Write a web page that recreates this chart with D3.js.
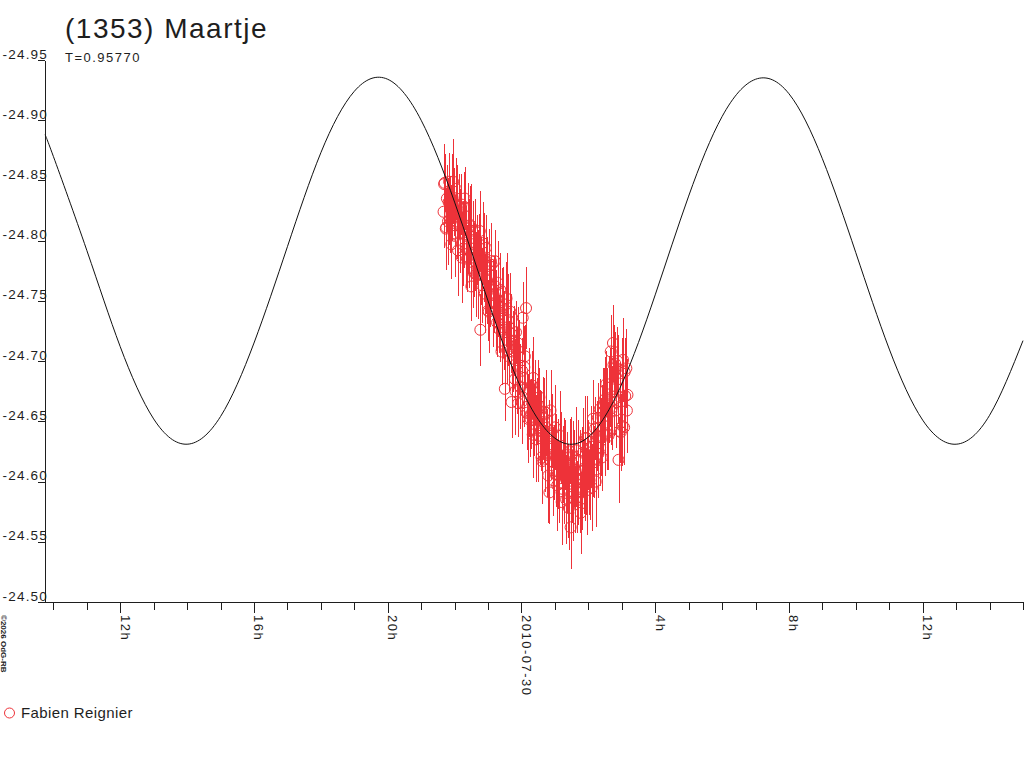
<!DOCTYPE html>
<html>
<head>
<meta charset="utf-8">
<script src="https://cdn.jsdelivr.net/npm/d3@7"></script>
<style>
  body { margin: 0; background: #fff; }
  svg { display: block; font-family: "Liberation Sans", Arial, sans-serif; }
</style>
</head>
<body>
<script>
// lightcurve of (1353) Maartje, hours counted from 2010-07-30 0h UT

var w = 1024;
var h = 768;
var red = "#ee3239";

// y axis ticks (magnitudes)
var yTicks = [-24.95, -24.90, -24.85, -24.80, -24.75, -24.70, -24.65, -24.60, -24.55, -24.50];

// x axis: major ticks and their labels, minor ticks every hour
var majorHours = [-12, -8, -4, 0, 4, 8, 12];
var majorLabels = ["12h", "16h", "20h", "2010-07-30", "4h", "8h", "12h"];
var minorHours = [-14, -13, -11, -10, -9, -7, -6, -5, -3, -2, -1, 1, 2, 3, 5, 6, 7, 9, 10, 11, 13, 14, 15];

// model curve
var modelHours = [-14.25, -14, -13, -12, -11, -10, -9, -8, -7, -6, -5, -4, -3, -2, -1,
  0, 1, 2, 3, 4, 5, 6, 7, 8, 9, 10, 11, 12, 13, 14, 15];
var modelMag = [-24.888, -24.870, -24.792, -24.712, -24.652, -24.631, -24.654, -24.715, -24.795,
  -24.873, -24.924, -24.934, -24.900, -24.832, -24.750, -24.677, -24.636, -24.637, -24.681,
  -24.755, -24.837, -24.903, -24.934, -24.922, -24.868, -24.790, -24.710, -24.651, -24.631,
  -24.655, -24.717];

// observations, Fabien Reignier
var obsHours = [
  -2.330, -2.297, -2.263, -2.230, -2.197, -2.163, -2.130, -2.097, -2.063,
  -2.030, -1.997, -1.963, -1.930, -1.897, -1.863, -1.830, -1.797, -1.763,
  -1.730, -1.697, -1.663, -1.630, -1.597, -1.563, -1.530, -1.497, -1.463,
  -1.430, -1.397, -1.363, -1.330, -1.297, -1.263, -1.230, -1.197, -1.163,
  -1.130, -1.097, -1.063, -1.030, -0.997, -0.963, -0.930, -0.897, -0.863,
  -0.830, -0.797, -0.763, -0.730, -0.697, -0.663, -0.630, -0.597, -0.563,
  -0.530, -0.497, -0.463, -0.430, -0.397, -0.363, -0.330, -0.297, -0.263,
  -0.230, -0.197, -0.163, -0.130, -0.097, -0.063, -0.030, 0.003, 0.037,
  0.070, 0.103, 0.137, 0.170, 0.203, 0.237, 0.270, 0.303, 0.337,
  0.370, 0.403, 0.437, 0.470, 0.503, 0.537, 0.570, 0.603, 0.637,
  0.670, 0.703, 0.737, 0.770, 0.803, 0.837, 0.870, 0.903, 0.937,
  0.970, 1.003, 1.037, 1.070, 1.103, 1.137, 1.170, 1.203, 1.237,
  1.270, 1.303, 1.337, 1.370, 1.403, 1.437, 1.470, 1.503, 1.537,
  1.570, 1.603, 1.637, 1.670, 1.703, 1.737, 1.770, 1.803, 1.837,
  1.870, 1.903, 1.937, 1.970, 2.003, 2.037, 2.070, 2.103, 2.137,
  2.170, 2.203, 2.237, 2.270, 2.303, 2.337, 2.370, 2.403, 2.437,
  2.470, 2.503, 2.537, 2.570, 2.603, 2.637, 2.670, 2.703, 2.737,
  2.770, 2.803, 2.837, 2.870, 2.903, 2.937, 2.970, 3.003, 3.037, 3.070, 3.103, 3.137, 3.170,
  -2.313, -2.247, -2.180, -2.113, -2.047, -1.980, -1.913, -1.847, -1.780, -1.713,
  -1.647, -1.580, -1.513, -1.447, -1.380, -1.313, -1.247, -1.180, -1.113, -1.047,
  -0.980, -0.913, -0.847, -0.780, -0.713, -0.647, -0.580, -0.513, -0.447, -0.380,
  -0.313, -0.247, -0.180, -0.113, -0.047, 0.020, 0.087, 0.153, 0.220, 0.287,
  0.353, 0.420, 0.487, 0.553, 0.620, 0.687, 0.753, 0.820, 0.887, 0.953,
  1.020, 1.087, 1.153, 1.220, 1.287, 1.353, 1.420, 1.487, 1.553, 1.620,
  1.687, 1.753, 1.820, 1.887, 1.953, 2.020, 2.087, 2.153, 2.220, 2.287,
  2.353, 2.420, 2.487, 2.553, 2.620, 2.687, 2.753, 2.820, 2.887, 2.953,
  3.020, 3.087, 3.153];
var obsMag = [
  -24.824, -24.848, -24.810, -24.835, -24.816, -24.849, -24.822, -24.797, -24.836,
  -24.832, -24.804, -24.843, -24.816, -24.792, -24.828, -24.806, -24.830, -24.797,
  -24.807, -24.835, -24.795, -24.785, -24.810, -24.785, -24.813, -24.762, -24.797,
  -24.784, -24.808, -24.772, -24.792, -24.772, -24.797, -24.726, -24.775, -24.798,
  -24.784, -24.756, -24.794, -24.767, -24.742, -24.779, -24.756, -24.780, -24.746,
  -24.755, -24.783, -24.742, -24.732, -24.757, -24.731, -24.759, -24.708, -24.742,
  -24.728, -24.677, -24.747, -24.709, -24.734, -24.708, -24.741, -24.666, -24.708,
  -24.717, -24.685, -24.724, -24.692, -24.665, -24.703, -24.678, -24.666, -24.736,
  -24.676, -24.704, -24.744, -24.662, -24.652, -24.677, -24.652, -24.680, -24.639,
  -24.651, -24.674, -24.635, -24.658, -24.638, -24.670, -24.642, -24.620, -24.653,
  -24.647, -24.619, -24.657, -24.630, -24.605, -24.591, -24.659, -24.642, -24.608,
  -24.616, -24.645, -24.606, -24.597, -24.623, -24.599, -24.628, -24.583, -24.614,
  -24.598, -24.622, -24.585, -24.610, -24.592, -24.625, -24.562, -24.596, -24.614,
  -24.611, -24.585, -24.626, -24.587, -24.602, -24.617, -24.574, -24.591, -24.624,
  -24.604, -24.636, -24.600, -24.593, -24.622, -24.601, -24.633, -24.595, -24.652,
  -24.616, -24.644, -24.610, -24.638, -24.623, -24.660, -24.637, -24.620, -24.658,
  -24.663, -24.639, -24.681, -24.658, -24.638, -24.678, -24.708, -24.661, -24.715,
  -24.668, -24.698, -24.666, -24.700, -24.618, -24.642, -24.641, -24.690, -24.701, -24.645, -24.671, -24.694, -24.672,
  -24.847, -24.811, -24.832, -24.816, -24.849, -24.806, -24.829, -24.812, -24.786, -24.828,
  -24.793, -24.808, -24.812, -24.774, -24.794, -24.776, -24.808, -24.763, -24.786, -24.768,
  -24.741, -24.783, -24.748, -24.762, -24.765, -24.726, -24.744, -24.724, -24.752, -24.704,
  -24.723, -24.702, -24.675, -24.715, -24.679, -24.692, -24.695, -24.657, -24.674, -24.656,
  -24.686, -24.643, -24.664, -24.645, -24.617, -24.658, -24.622, -24.636, -24.640, -24.601,
  -24.622, -24.606, -24.638, -24.594, -24.617, -24.602, -24.578, -24.622, -24.590, -24.609,
  -24.618, -24.585, -24.609, -24.597, -24.636, -24.599, -24.629, -24.618, -24.600, -24.653,
  -24.628, -24.653, -24.668, -24.640, -24.668, -24.658, -24.697, -24.659, -24.685, -24.670,
  -24.646, -24.691, -24.659];
var obsErr = [
  0.030, 0.024, 0.034, 0.028, 0.036, 0.024, 0.032, 0.029, 0.036,
  0.028, 0.034, 0.026, 0.031, 0.038, 0.027, 0.033, 0.025, 0.035,
  0.030, 0.026, 0.034, 0.028, 0.038, 0.024, 0.032, 0.029, 0.036,
  0.031, 0.027, 0.035, 0.029, 0.037, 0.025, 0.030, 0.028, 0.034,
  0.029, 0.033, 0.027, 0.036, 0.025, 0.031, 0.028, 0.035, 0.030,
  0.032, 0.026, 0.034, 0.029, 0.037, 0.024, 0.031, 0.028, 0.036,
  0.030, 0.027, 0.035, 0.028, 0.038, 0.025, 0.032, 0.030, 0.034,
  0.029, 0.033, 0.026, 0.036, 0.028, 0.031, 0.027, 0.035, 0.030,
  0.031, 0.026, 0.034, 0.029, 0.037, 0.025, 0.032, 0.028, 0.036,
  0.030, 0.027, 0.035, 0.028, 0.038, 0.024, 0.033, 0.029, 0.034,
  0.032, 0.028, 0.036, 0.030, 0.039, 0.026, 0.034, 0.031, 0.037,
  0.031, 0.035, 0.027, 0.038, 0.029, 0.033, 0.030, 0.036, 0.032,
  0.033, 0.029, 0.037, 0.031, 0.039, 0.027, 0.035, 0.030, 0.036,
  0.032, 0.028, 0.036, 0.030, 0.038, 0.026, 0.034, 0.031, 0.037,
  0.031, 0.035, 0.028, 0.037, 0.029, 0.033, 0.030, 0.036, 0.032,
  0.030, 0.026, 0.034, 0.029, 0.037, 0.025, 0.032, 0.028, 0.036,
  0.031, 0.034, 0.027, 0.036, 0.028, 0.033, 0.030, 0.035, 0.032,
  0.030, 0.026, 0.034, 0.028, 0.036, 0.027, 0.032, 0.029, 0.035, 0.031, 0.028, 0.033, 0.030,
  0.033, 0.028, 0.036, 0.030, 0.035, 0.027, 0.034, 0.031, 0.038, 0.029,
  0.032, 0.027, 0.035, 0.030, 0.036, 0.028, 0.033, 0.031, 0.037, 0.029,
  0.034, 0.028, 0.036, 0.030, 0.035, 0.027, 0.033, 0.031, 0.038, 0.029,
  0.033, 0.028, 0.036, 0.030, 0.035, 0.027, 0.034, 0.031, 0.037, 0.029,
  0.034, 0.029, 0.037, 0.031, 0.036, 0.028, 0.035, 0.032, 0.039, 0.030,
  0.034, 0.029, 0.037, 0.031, 0.036, 0.028, 0.035, 0.032, 0.039, 0.030,
  0.033, 0.028, 0.036, 0.030, 0.035, 0.027, 0.034, 0.031, 0.038, 0.029,
  0.032, 0.027, 0.035, 0.030, 0.036, 0.028, 0.033, 0.031, 0.037, 0.029,
  0.033, 0.028, 0.035];

var obs = obsHours.map(function(t, i) {
  return { t: t, m: obsMag[i], e: obsErr[i] };
});

// scales
var xScale = d3.scaleLinear().domain([-14.25, 15]).range([45, 1023]);
var yScale = d3.scaleLinear().domain([-24.95, -24.50]).range([60, 602]);

var svg = d3.select("body").append("svg")
  .attr("width", w)
  .attr("height", h);

// title
svg.append("text")
  .attr("x", 65).attr("y", 38)
  .attr("font-size", "28px")
  .attr("letter-spacing", "1.5px")
  .attr("fill", "#1e1e1e")
  .text("(1353) Maartje");

svg.append("text")
  .attr("x", 65).attr("y", 62)
  .attr("font-size", "13px")
  .attr("letter-spacing", "1.5px")
  .attr("fill", "#1e1e1e")
  .text("T=0.95770");

// y axis
var yAxis = svg.append("g")
  .attr("transform", "translate(45,0)")
  .attr("shape-rendering", "crispEdges")
  .call(d3.axisLeft(yScale)
    .tickValues(yTicks)
    .tickSize(7)
    .tickSizeOuter(0)
    .tickFormat(function(d) { return d.toFixed(2); }));
yAxis.selectAll("text")
  .attr("x", 3)
  .attr("dy", "-2px")
  .attr("font-size", "13.5px")
  .attr("letter-spacing", "1.2px")
  .attr("font-family", "Liberation Sans, Arial, sans-serif")
  .attr("fill", "#1e1e1e");
yAxis.selectAll("line, path").attr("stroke", "#1e1e1e");

// x axis, minor ticks
var xMinor = svg.append("g")
  .attr("transform", "translate(0,602)")
  .attr("shape-rendering", "crispEdges")
  .call(d3.axisBottom(xScale)
    .tickValues(minorHours)
    .tickSize(8)
    .tickSizeOuter(0)
    .tickFormat(""));
xMinor.selectAll("line, path").attr("stroke", "#1e1e1e");

// x axis, major ticks with rotated labels
var xMajor = svg.append("g")
  .attr("transform", "translate(0,602)")
  .attr("shape-rendering", "crispEdges")
  .call(d3.axisBottom(xScale)
    .tickValues(majorHours)
    .tickSize(11)
    .tickSizeOuter(0)
    .tickFormat(function(d, i) { return majorLabels[i]; }));
xMajor.select(".domain").remove();
xMajor.selectAll("line").attr("stroke", "#1e1e1e");
xMajor.selectAll("text")
  .attr("transform", "rotate(90)")
  .attr("x", 13)
  .attr("y", 0)
  .attr("dy", 0)
  .attr("text-anchor", "start")
  .attr("font-size", "13px")
  .attr("letter-spacing", "1.5px")
  .attr("font-family", "Liberation Sans, Arial, sans-serif")
  .attr("fill", "#1e1e1e");

// copyright
svg.append("text")
  .attr("transform", "translate(1,615) rotate(90)")
  .attr("font-size", "8px")
  .attr("font-weight", "bold")
  .attr("fill", "#1e1e1e")
  .text("\u00a92026 OdG-RB");

// error bars
svg.append("g")
  .attr("shape-rendering", "crispEdges")
  .selectAll("line")
  .data(obs)
  .enter()
  .append("line")
  .attr("x1", function(d) { return Math.round(xScale(d.t)) + 0.5; })
  .attr("x2", function(d) { return Math.round(xScale(d.t)) + 0.5; })
  .attr("y1", function(d) { return yScale(d.m - d.e); })
  .attr("y2", function(d) { return yScale(d.m + d.e); })
  .attr("stroke", red)
  .attr("stroke-width", 1);

// points
svg.append("g")
  .selectAll("circle")
  .data(obs)
  .enter()
  .append("circle")
  .attr("cx", function(d) { return xScale(d.t); })
  .attr("cy", function(d) { return yScale(d.m); })
  .attr("r", 5.5)
  .attr("fill", "none")
  .attr("stroke", red)
  .attr("stroke-width", 1);

// model curve on top
var line = d3.line()
  .x(function(d, i) { return xScale(modelHours[i]); })
  .y(function(d) { return yScale(d); })
  .curve(d3.curveNatural);

svg.append("path")
  .datum(modelMag)
  .attr("d", line)
  .attr("fill", "none")
  .attr("stroke", "#111")
  .attr("stroke-width", 1);

// legend
svg.append("circle")
  .attr("cx", 9.5).attr("cy", 713)
  .attr("r", 5)
  .attr("fill", "none")
  .attr("stroke", red);

svg.append("text")
  .attr("x", 21).attr("y", 718)
  .attr("font-size", "15px")
  .attr("letter-spacing", "0.4px")
  .attr("fill", "#1e1e1e")
  .text("Fabien Reignier");
</script>
</body>
</html>
